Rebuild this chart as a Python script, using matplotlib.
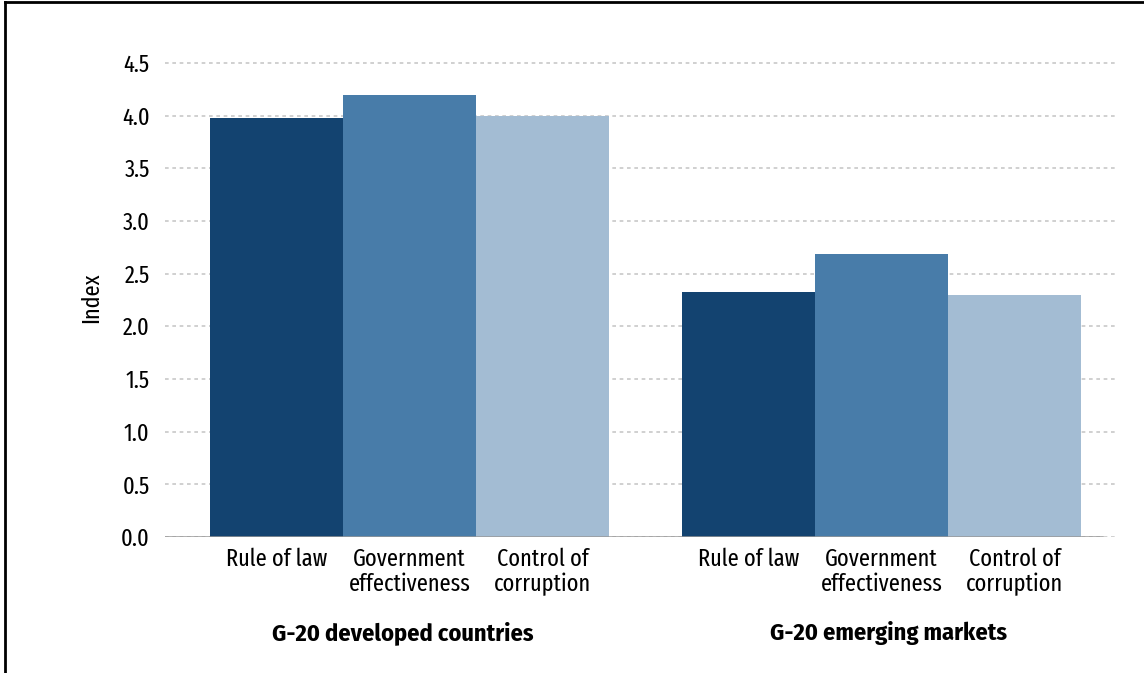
import numpy as np
import matplotlib
matplotlib.use("Agg")
import matplotlib.pyplot as plt
from matplotlib.lines import Line2D
from matplotlib.transforms import blended_transform_factory

plt.rcParams['font.family'] = ['Fira Sans Extra Condensed', 'DejaVu Sans']

# data
groups = ["G-20 developed countries", "G-20 emerging markets"]
indicators = ["Rule of law", "Government\neffectiveness", "Control of\ncorruption"]
developed = [3.98, 4.20, 4.00]
emerging = [2.33, 2.685, 2.30]
colors = ["#134370", "#487ca9", "#a3bcd3"]

fig = plt.figure(figsize=(11.44, 6.73), dpi=100)
ax = fig.add_axes([165 / 1144, 1 - 537 / 673, (1118 - 165) / 1144, (537 - 57.7) / 673])

group_gap = 0.55
x_dev = np.arange(3)
x_em = np.arange(3) + 3 + group_gap
for i in range(3):
    ax.bar([x_dev[i], x_em[i]], [developed[i], emerging[i]], width=1.0,
           color=colors[i], edgecolor="none", zorder=2)

ax.set_xlim(-0.838, x_em[-1] + 0.5 + 0.278)
ax.set_ylim(0, 4.55)
ax.set_yticks(np.arange(0, 4.51, 0.5))
ax.set_yticklabels([f"{v:.1f}" for v in np.arange(0, 4.51, 0.5)], fontsize=17.5)
ax.yaxis.grid(True, linestyle=(0, (2.2, 2.2)), color="#c8c8c8", linewidth=1.2, zorder=0)
ax.set_axisbelow(True)

ax.set_xticks(list(x_dev) + list(x_em))
ax.set_xticklabels(indicators * 2, fontsize=17.5, linespacing=1.08)
ax.tick_params(axis="both", length=0)
ax.tick_params(axis="x", pad=8)
ax.tick_params(axis="y", pad=11)

for s in ax.spines.values():
    s.set_visible(False)
ax.axhline(0, xmin=0, xmax=(1102 - 165) / (1118 - 165), color="#999999", linewidth=1.8, zorder=3)

ax.set_ylabel("Index", fontsize=17.5, labelpad=13)

# group names under the category labels
trans = blended_transform_factory(ax.transData, fig.transFigure)
for xc, name in zip([x_dev.mean() - 0.05, x_em.mean() + 0.05], groups):
    ax.text(xc, 1 - 621 / 673, name, transform=trans, ha="center", va="top",
            fontsize=17.5, fontweight="bold", family=['Fira Sans Condensed', 'DejaVu Sans'])

# frame on left and top
fig.add_artist(Line2D([5 / 1144, 5 / 1144], [0, 1 - 2 / 673], transform=fig.transFigure,
                      color="black", linewidth=2))
fig.add_artist(Line2D([5 / 1144, 1], [1 - 2 / 673, 1 - 2 / 673], transform=fig.transFigure,
                      color="black", linewidth=2))

fig.savefig("out.png", dpi=100)
plt.close(fig)
